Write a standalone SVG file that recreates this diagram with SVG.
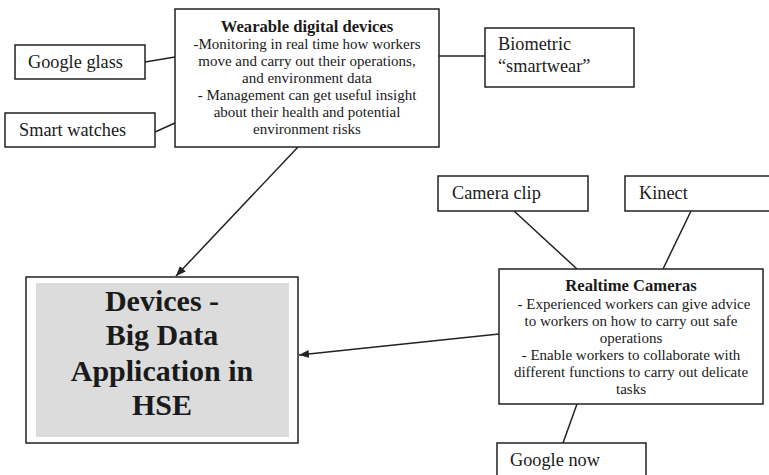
<svg xmlns="http://www.w3.org/2000/svg" width="769" height="475" viewBox="0 0 769 475">
<style>
.box{fill:#fff;stroke:#222;stroke-width:1.5}
.ln{stroke:#222;stroke-width:1.5;fill:none}
.t{font-family:'Liberation Serif','Times New Roman',Times,serif;fill:#1a1a1a}
.lbl{font-size:18.3px}
.body{font-size:15px;text-anchor:middle}
.ttl{font-size:16.6px;font-weight:bold;text-anchor:middle}
.big{font-size:30px;font-weight:bold;text-anchor:middle}
</style>
<defs>
<marker id="arr" viewBox="0 0 10 10" refX="10" refY="5" markerWidth="10" markerHeight="10" markerUnits="userSpaceOnUse" orient="auto">
<path d="M0,1 L10,5 L0,9 Z" fill="#222"/>
</marker>
</defs>
<rect width="769" height="475" fill="#fff"/>
<g id="connectors">
<line class="ln" x1="145" y1="62" x2="175" y2="57"/>
<line class="ln" x1="155" y1="132" x2="175" y2="123"/>
<line class="ln" x1="439" y1="56" x2="485" y2="56"/>
<line class="ln" x1="298" y1="147" x2="176" y2="276" marker-end="url(#arr)"/>
<line class="ln" x1="499" y1="334" x2="299" y2="355" marker-end="url(#arr)"/>
<line class="ln" x1="514" y1="211" x2="577" y2="269"/>
<line class="ln" x1="691" y1="211" x2="663" y2="269"/>
<line class="ln" x1="577" y1="404" x2="563" y2="443"/>
</g>
<g id="wearable">
<rect class="box" x="175" y="9" width="264" height="138"/>
<text class="t ttl" x="307" y="32">Wearable digital devices</text>
<text class="t body" x="307" y="49">-Monitoring in real time how workers</text>
<text class="t body" x="307" y="66">move and carry out their operations,</text>
<text class="t body" x="307" y="83">and environment data</text>
<text class="t body" x="307" y="100">- Management can get useful insight</text>
<text class="t body" x="307" y="117">about their health and potential</text>
<text class="t body" x="307" y="134">environment risks</text>
</g>
<g id="google-glass">
<rect class="box" x="15" y="45" width="130" height="34"/>
<text class="t lbl" x="28" y="68">Google glass</text>
</g>
<g id="smart-watches">
<rect class="box" x="5" y="113" width="150" height="34"/>
<text class="t lbl" x="19" y="136">Smart watches</text>
</g>
<g id="biometric">
<rect class="box" x="485" y="28" width="149" height="59"/>
<text class="t lbl" x="498" y="50">Biometric</text>
<text class="t lbl" x="498" y="72">“smartwear”</text>
</g>
<g id="main">
<rect class="box" x="26" y="277" width="272" height="166"/>
<rect x="36" y="283" width="253" height="154" fill="#dcdcdd"/>
<text class="t big" x="162" y="311">Devices -</text>
<text class="t big" x="162" y="345">Big Data</text>
<text class="t big" x="162" y="381">Application in</text>
<text class="t big" x="162" y="415">HSE</text>
</g>
<g id="camera-clip">
<rect class="box" x="438" y="176" width="150" height="35"/>
<text class="t lbl" x="452" y="199">Camera clip</text>
</g>
<g id="kinect">
<rect class="box" x="625" y="176" width="150" height="35"/>
<text class="t lbl" x="639" y="199">Kinect</text>
</g>
<g id="realtime">
<rect class="box" x="499" y="269" width="264" height="135"/>
<text class="t ttl" x="631" y="291">Realtime Cameras</text>
<text class="t body" x="634" y="309">- Experienced workers can give advice</text>
<text class="t body" x="631" y="326">to workers on how to carry out safe</text>
<text class="t body" x="631" y="343">operations</text>
<text class="t body" x="631" y="360">- Enable workers to collaborate with</text>
<text class="t body" x="631" y="377">different functions to carry out delicate</text>
<text class="t body" x="631" y="394">tasks</text>
</g>
<g id="google-now">
<rect class="box" x="497" y="443" width="149" height="40"/>
<text class="t lbl" x="510" y="466">Google now</text>
</g>
</svg>
